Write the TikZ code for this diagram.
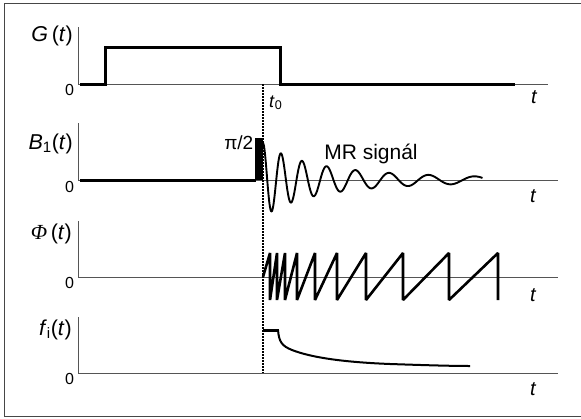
\documentclass[tikz,border=0pt]{standalone}
\usepackage{fontspec}
\setmainfont{Liberation Sans}
\newfontfamily\phifont{Liberation Serif}
\definecolor{axisgray}{RGB}{85,85,85}
\definecolor{framegray}{RGB}{70,70,70}
\begin{document}
\begin{tikzpicture}[x=1pt,y=-1pt,
  axis/.style={draw=axisgray, line width=1pt},
  sig/.style={draw=black, line width=3pt, line join=miter},
  lbl/.style={font=\fontsize{21.5}{25}\selectfont, inner sep=0pt, anchor=base east},
  zero/.style={font=\fontsize{16}{19}\selectfont, inner sep=0pt, anchor=base},
  tlab/.style={font=\fontsize{20}{24}\selectfont\itshape, inner sep=0pt, anchor=base}]
\useasboundingbox (0,0) rectangle (581,418);
% frame
\draw[framegray, line width=1.5pt] (581,3.5) -- (4.5,3.5) -- (4.5,416.5) -- (581,416.5);
% axes
\draw[axis] (78,27) -- (78,84) -- (548,84);
\draw[axis] (78,123) -- (78,180) -- (558,180);
\draw[axis] (78,221) -- (78,277) -- (558,277);
\draw[axis] (78,317) -- (78,373) -- (558,373);
% G(t)
\draw[sig] (80,84) -- (105,84) -- (105,47) -- (280,47) -- (280,84) -- (515,84);
% B1(t)
\draw[sig] (80,180) -- (256,180);
\fill[black] (255,138) rectangle (263,180);
\draw[black, line width=1.9pt, line join=round]
  plot[domain=0:7.15, samples=500, variable=\u]
  ({263+105.9*(exp(0.157*\u)-1)}, {180-37*exp(-0.33*\u)*cos(360*\u)});
% Phi(t)
\draw[black, line width=2.6pt, line join=bevel]
  (263,277) -- (270,253) -- (270,300) -- (277,253) -- (277,300) -- (285,253) -- (285,300)
  -- (297,253) -- (297,300) -- (315,253) -- (315,300) -- (337,253) -- (337,300)
  -- (366,253) -- (366,300) -- (403,253) -- (403,300) -- (449,253) -- (449,300)
  -- (498,253) -- (498,300);
% f_i(t)
\draw[black, line width=3pt] (263,330) -- (278.5,330);
\draw[black, line width=2pt] (278,330) .. controls (279,342) and (282,346) .. (292,350)
  .. controls (310,357) and (340,362) .. (390,364)
  .. controls (420,365) and (450,366) .. (470,366);
% dotted line
\draw[black, line width=2pt, dash pattern=on 2pt off 1pt] (263,84) -- (263,373);
% labels
\node[lbl] (gl) at (73,41) {\textit{G}\,(\textit{t})};
\node[lbl] (bl) at (73,149.5) {\textit{B}\textsubscript{1}(\textit{t})};
\node[lbl] (pl) at (72,239) {{\phifont\itshape Φ}\,(\textit{t})};
\node[lbl] (fl) at (72,335) {\textit{f}\textsubscript{i}(\textit{t})};
\node[zero] (z1) at (69.5,95.5) {0};
\node[zero] (z2) at (69.5,192) {0};
\node[zero] (z3) at (69.5,288.5) {0};
\node[zero] (z4) at (69.5,384.5) {0};
\node[tlab] (t1) at (534,103.5) {t};
\node[tlab] (t2) at (533,202) {t};
\node[tlab] (t3) at (533,301) {t};
\node[tlab] (t4) at (533,395.5) {t};
\node[font=\fontsize{18}{21}\selectfont, inner sep=0pt, anchor=base west] (t0) at (269,107) {\textit{t}\textsubscript{0}};
\node[font=\fontsize{19}{23}\selectfont, inner sep=0pt, anchor=base east] (pi) at (253.5,149.5) {π/2};
\node[font=\fontsize{21}{25}\selectfont, inner sep=0pt, anchor=base] (mr) at (371,159) {MR signál};
\end{tikzpicture}
\end{document}
